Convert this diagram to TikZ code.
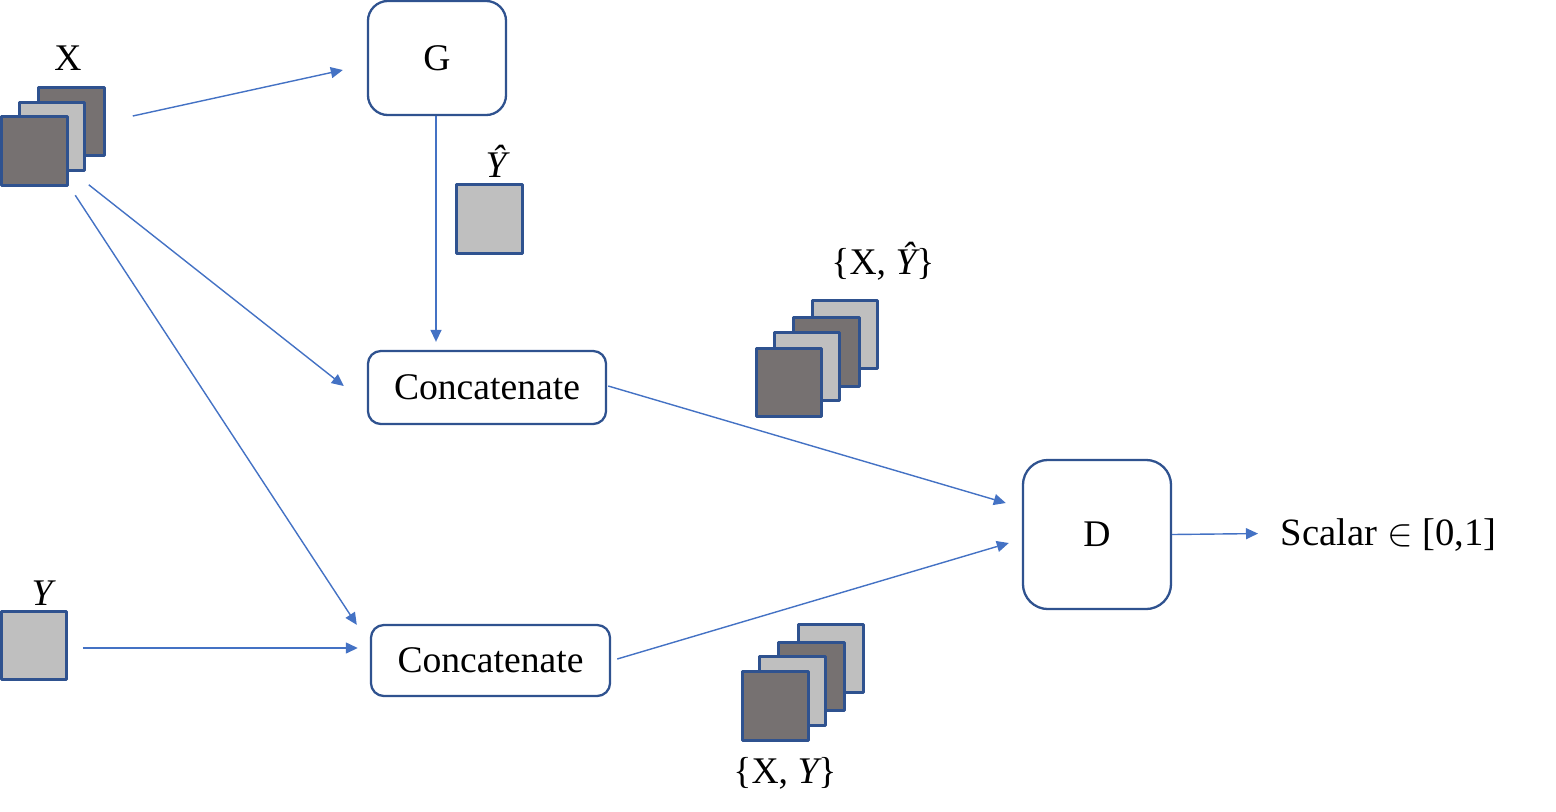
\documentclass[tikz,border=0pt]{standalone}
\usepackage{fontspec}
\setmainfont{Liberation Serif}
\usetikzlibrary{arrows.meta}
\definecolor{sqdark}{HTML}{767171}
\definecolor{sqlight}{HTML}{BFBFBF}
\definecolor{edgeblue}{HTML}{2F528F}
\definecolor{arrblue}{HTML}{4472C4}
\begin{document}
\begin{tikzpicture}[x=0.01cm, y=-0.01cm, >={Triangle[length=0.12cm,width=0.11cm]},
	font=\fontsize{10.7}{12}\selectfont, line join=round,
	sq/.style={draw=edgeblue, line width=0.85pt, minimum width=0.655cm, minimum height=0.685cm, inner sep=0pt},
	darksq/.style={sq, fill=sqdark}, lightsq/.style={sq, fill=sqlight},
	blk/.style={draw=edgeblue, line width=0.65pt, fill=white, inner sep=0pt},
	arr/.style={->, arrblue, line width=0.4pt}]
	\useasboundingbox (0,0) rectangle (1556,811);
	% inputs
	\node[darksq] (xback) at (71.5,121.5) {};
	\node[lightsq] (xmid) at (52,136.5) {};
	\node[darksq] (xfront) at (34.5,151) {};
	\node[anchor=base] (xlab) at (68,70) {X};
	\node[lightsq] (ysq) at (34,645.5) {};
	\node[anchor=base] (ylab) at (42,605) {\itshape Y};
	% generator
	\node[blk, rounded corners=0.2cm, minimum width=1.38cm, minimum height=1.14cm] (G) at (437,58) {\raisebox{-0.1cm}{G}\hspace{0.14cm}};
	\node[lightsq] (yhat) at (489.5,219) {};
	\node[anchor=base] (yhatlab) at (496,177) {\itshape Ŷ};
	% concatenation
	\node[blk, rounded corners=0.13cm, minimum width=2.38cm, minimum height=0.73cm] (cfake) at (487,387.5) {Concatenate\hspace{0.1cm}};
	\node[blk, rounded corners=0.13cm, minimum width=2.39cm, minimum height=0.71cm] (creal) at (490.5,660.5) {Concatenate\hspace{0.08cm}};
	% stacked pairs
	\node[lightsq] (fa) at (845,334.5) {};
	\node[darksq] (fb) at (826.5,352) {};
	\node[lightsq] (fc) at (807,366.5) {};
	\node[darksq] (fd) at (789,382.5) {};
	\node[anchor=base] (fakelab) at (883,274) {\{X, {\itshape Ŷ}\}};
	\node[lightsq] (ra) at (831,658.5) {};
	\node[darksq] (rb) at (811.5,676.5) {};
	\node[lightsq] (rc) at (792.5,691) {};
	\node[darksq] (rd) at (775.5,706) {};
	\node[anchor=base] (reallab) at (785,783) {\{X, {\itshape Y}\}};
	% discriminator
	\node[blk, rounded corners=0.25cm, minimum width=1.48cm, minimum height=1.49cm] (D) at (1097,534.5) {D\hspace{0.08cm}};
	\node[anchor=base west, inner sep=0pt, font=\fontsize{11}{13}\selectfont] (scal) at (1280,545) {Scalar $\in$ [0,1]};
	% connectors
	\draw[arr] ([shift={(27,-5.5)}]xback.east) -- ([shift={(-24,12)}]G.west);
	\draw[arr] ([shift={(20,-2)}]xfront.south east) -- ([shift={(-23,-1.5)}]cfake.west);
	\draw[arr] ([shift={(6.5,8.5)}]xfront.south east) -- ([shift={(-13,1)}]creal.north west);
	\draw[arr] ([shift={(14.5,2.5)}]ysq.east) -- ([shift={(-12,-12.5)}]creal.west);
	\draw[arr] ([shift={(-1,0)}]G.south) -- ([shift={(-51,-8)}]cfake.north);
	\draw[arr] ([shift={(1,-1.5)}]cfake.east) -- ([shift={(-16,-31.5)}]D.west);
	\draw[arr] ([shift={(6,-1.5)}]creal.east) -- ([shift={(-13,8.5)}]D.west);
	\draw[arr] (D.east) -- ([shift={(-22,-1)}]scal.west);
\end{tikzpicture}
\end{document}
